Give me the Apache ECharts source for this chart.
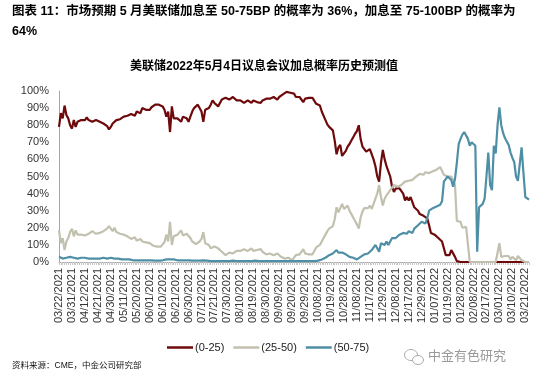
<!DOCTYPE html>
<html>
<head>
<meta charset="utf-8">
<script src="https://cdn.jsdelivr.net/npm/echarts@6/dist/echarts.min.js"></script>
<style>
html,body{margin:0;padding:0;background:#fff;}
#chart{width:550px;height:382px;}
</style>
</head>
<body>
<div id="chart"></div>
<script>
// Trading days shown on the category axis (year, month, days)
const tradingDays = [
  ['2021','03',[22,23,24,25,26,29,30,31]],
  ['2021','04',[1,5,6,7,8,9,12,13,14,15,16,19,20,21,22,23,26,27,28,29,30]],
  ['2021','05',[3,4,5,6,7,10,11,12,13,14,17,18,19,20,21,24,25,26,27,28]],
  ['2021','06',[1,2,3,4,7,8,9,10,11,14,15,16,17,18,21,22,23,24,25,28,29,30]],
  ['2021','07',[1,2,6,7,8,9,12,13,14,15,16,19,20,21,22,23,26,27,28,29,30]],
  ['2021','08',[2,3,4,5,6,9,10,11,12,13,16,17,18,19,20,23,24,25,26,27,30,31]],
  ['2021','09',[1,2,3,7,8,9,10,13,14,15,16,17,20,21,22,23,24,27,28,29,30]],
  ['2021','10',[1,4,5,6,7,8,11,12,13,14,15,18,19,20,21,22,25,26,27,28,29]],
  ['2021','11',[1,2,3,4,5,8,9,10,11,12,15,16,17,18,19,22,23,24,26,29,30]],
  ['2021','12',[1,2,3,6,7,8,9,10,13,14,15,16,17,20,21,22,23,27,28,29,30,31]],
  ['2022','01',[3,4,5,6,7,10,11,12,13,14,18,19,20,21,24,25,26,27,28,31]],
  ['2022','02',[1,2,3,4,7,8,9,10,11,14,15,16,17,18,22,23,24,25,28]],
  ['2022','03',[1,2,3,4,7,8,9,10,11,14,15,16,17,18,21,22,23]]
];
const categories = tradingDays.flatMap(([y, m, ds]) =>
  ds.map(d => m + '/' + String(d).padStart(2, '0') + '/' + y));

const seriesNames = ['(0-25)', '(25-50)', '(50-75)'];

const p0_25 = [
  79,87,84,91.5,86,84,80,78,83,79,
  82,81,83,83,83,84.5,83,82,82,83,
  83,83,82,81.5,81,80,79.5,77.5,79,81,
  82,83,83,83.5,84,85,85.5,85.5,86,86.5,
  86,85.5,88,87.5,87,90,89,89,88,89,
  90.5,91,92,92,92,92,91,89,85,88,
  76,91,84,85,84,83,82,85,84.5,84,
  82,85,88,90,91,92,91,88,82,89,
  89,90,92,94.5,93,92,91,91.5,95,95,
  96,96.5,95,96,96.5,95.5,94.5,93.5,94.5,93.5,
  93,94,94.5,93.5,93,94.5,94,93.5,93,93,
  94.5,95.5,95.5,95.5,95.5,95.5,96.5,96,95,96.5,
  97.5,98,99,99.5,98.5,99,100,98.5,96.5,96.5,
  96.5,95.5,93.5,95.5,96,96,96,96,95.5,92.5,
  92,91.5,88,87,83,80.5,79,80,77,71,
  63,67,68.5,62,63.5,65,67.5,69,71,73,
  75,76.5,80,72,67.5,66,64.5,64.5,66,67,
  60,56,50,47,58,65.5,60,56,53,50,
  44,41,43,43,43,42,40,36,38,36,
  38,35,32,31,30,28,29,27,26,25.5,
  21.5,17,16,16,15,14,13,12,8,4,
  4,4,7,8,3,0.5,0,0,0,0,
  0,0,0,0,0,0,0,0,0,0,
  0,0,0,0,0,0,0,0,0,0,
  0,0,0,0,0,0,0,0,0,0,
  0,0,0,0,0
];

const p25_50 = [
  18.5,11,14,7,12,14,17.5,19.5,15,18.5,
  16,17,16,15.5,15.5,15,16.5,17.5,18,17,
  16.5,16.5,17,17.5,18,19,19.5,21,19.5,18,
  20,17.5,17,16.5,16.5,16,15.5,15,14.5,13.5,
  14,14.5,12.5,13,13.5,12,12.5,11.5,12,11,
  10,9.5,9,9,9,9,10,11.5,16,12,
  23.5,10,15,15,16,17,18.5,15.5,16,16.5,
  16.5,14,12,11,10.5,11,12,13.5,17.5,11,
  11,10,8,8,9,8.5,8,8,6,5,
  4,4,5.5,6,5,6,6.5,7.5,6.5,7,
  7.5,7,6.5,7.5,8,6.5,6,7,7.5,7.5,
  6,5,4.5,5,5,4.5,4,4.5,5,4,
  3,2.5,2,1.5,2.5,2,1,2.5,4,4,
  4.5,5,7.5,5,4.5,4.5,4.5,4.5,5,8.5,
  9,10,12,14,16,18,19.5,19,21,25,
  32,29,28,34,31,30,33,30,28,27,
  24,22,19.5,26,29.5,31.5,32,31.5,33,31,
  34,37,40,45,38,33,37,39,40,42,
  43,45,45,44,44,45,46,47,46,47.5,
  47.5,48,49,50,51,51.5,52,51,52.5,53,
  52,52.5,53,53.5,54,55,55.5,56.5,51,50,
  50,51,50,48,45,24,23,23.5,20,19.5,
  20.5,20,0,0,0,0,0,0,0,0,
  0,0,0,0,0,0,0,0,11,3,
  2,3.5,3,3.5,1.5,3,3.5,1,3.5,3,
  1,0,0,0,0
];

const p50_75 = [
  3,2.5,2,2.5,2.5,3,3,2.5,2.5,2.5,
  2,2,2.5,2.5,2.5,2,2,2,2,2,
  2,2,2,2,2.5,2,2,2.5,2.5,2.5,
  2,2,2,1.5,1.5,1.5,1.5,1.5,1.5,1,
  1,1,1,1,1,1,1,1,1,1,
  1,1,0.8,0.8,0.8,0.8,1,1,1.5,2,
  1.5,1,1.5,1,1,1,1,1,1,1,
  1,1,0.8,0.8,0.8,0.8,0.8,0.8,1,0.8,
  0.8,0.8,0.5,0.5,0.5,0.5,0.5,0.5,0.5,0.5,
  0.5,0.5,0.5,0.5,0.8,0.5,0.5,0.5,0.5,0.5,
  0.5,0.5,0.5,0.5,0.5,0.5,0.8,0.5,0.5,0.5,
  0.5,0.5,0.5,0.5,0.5,0.5,0.5,0.5,0.5,0.5,
  0.5,0.5,0.5,0.5,0.5,0.5,0.5,0.5,0.5,0.5,
  0.5,0.5,0.5,0.5,0.5,0.5,0.5,0.5,0.5,0.5,
  0.8,1,1.5,2,2.5,3,4,4.5,5,6,
  7,5.5,6,5.5,5,4.5,4,3,2.5,2.5,
  2,1.5,1.5,3,4,4.5,4.5,5,5.5,7,
  8,10,8,6,11,10.5,10,12,10,12,
  14,15,14,14.5,16,16,17,16,16.5,18,
  17.5,17,19.5,20.5,21.5,22.5,23.5,23,22.5,25.5,
  30,30.5,31.5,32,32.5,33,33.5,35.5,47,48.5,
  50,49,48,44,48.5,58,69,72,74.5,76,
  75.5,72,68,70,69.5,68,6,32,31,34,
  37,50,64,45,42,68,63.5,80,90.5,80,
  75.5,72.5,70.5,68.5,64,61,58.5,50,47.5,47,
  67,52,38,37,36.5
];

const yTicks = [0,10,20,30,40,50,60,70,80,90,100];
const colors = ['#6E0A0C', '#C2C0AE', '#4F8FA6'];

const FONT = '"Liberation Sans", Arial, "Noto Sans CJK SC", sans-serif';
const chart = echarts.init(document.getElementById('chart'), null, {renderer: 'canvas'});

const seriesData = [p0_25, p25_50, p50_75];
chart.setOption({
  animation: false,
  textStyle: {fontFamily: FONT},
  grid: {left: 59, right: 21, top: 91, bottom: 120, containLabel: false},
  legend: {
    data: seriesNames,
    top: 337,
    left: 162,
    icon: 'rect',
    itemWidth: 26,
    itemHeight: 2.5,
    itemGap: 9,
    textStyle: {fontSize: 11, color: '#222', fontFamily: FONT, padding: [0, 0, 0, -3]}
  },
  xAxis: {
    type: 'category',
    data: categories,
    boundaryGap: false,
    axisLine: {show: true, lineStyle: {color: '#A6A6A6', width: 1}},
    axisTick: {show: true, interval: 0, length: 3, lineStyle: {color: '#C8C8C8'}},
    axisLabel: {interval: 6, rotate: 90, fontSize: 11, color: '#333', margin: 6, fontFamily: FONT},
    splitLine: {show: false}
  },
  yAxis: {
    type: 'value',
    min: yTicks[0],
    max: yTicks[yTicks.length - 1],
    interval: 10,
    axisLine: {show: true, lineStyle: {color: '#A6A6A6', width: 1}},
    axisTick: {show: false},
    splitLine: {show: false},
    axisLabel: {formatter: '{value}%', fontSize: 11, color: '#333', margin: 10, fontFamily: FONT}
  },
  series: seriesNames.map((n, k) => ({
    name: n,
    type: 'line',
    data: seriesData[k],
    symbol: 'none',
    color: colors[k],
    lineStyle: {width: 2.2, color: colors[k]},
    z: 2 + k
  })),
  graphic: [
    {type: 'text', left: 12, top: 5, style: {text: '图表 11：市场预期 5 月美联储加息至 50-75BP 的概率为 36%，加息至 75-100BP 的概率为', font: 'bold 12.5px ' + FONT, fill: '#000'}},
    {type: 'text', left: 12, top: 25, style: {text: '64%', font: 'bold 12.5px ' + FONT, fill: '#000'}},
    {type: 'text', left: 130, top: 61, style: {text: '美联储2022年5月4日议息会议加息概率历史预测值', font: 'bold 12px ' + FONT, fill: '#000'}},
    {type: 'text', left: 12, top: 361, style: {text: '资料来源：CME，中金公司研究部', font: '8.5px ' + FONT, fill: '#111'}},
    {type: 'text', left: 428, top: 350, style: {text: '中金有色研究', font: '13px ' + FONT, fill: '#9A9A9A'}},
    {type: 'ellipse', shape: {cx: 411, cy: 355, rx: 6.5, ry: 5.5}, style: {fill: 'none', stroke: '#A8A8A8', lineWidth: 1}},
    {type: 'ellipse', shape: {cx: 418, cy: 360, rx: 5.5, ry: 4.5}, style: {fill: '#fff', stroke: '#A8A8A8', lineWidth: 1}}
  ]
});
</script>
</body>
</html>
